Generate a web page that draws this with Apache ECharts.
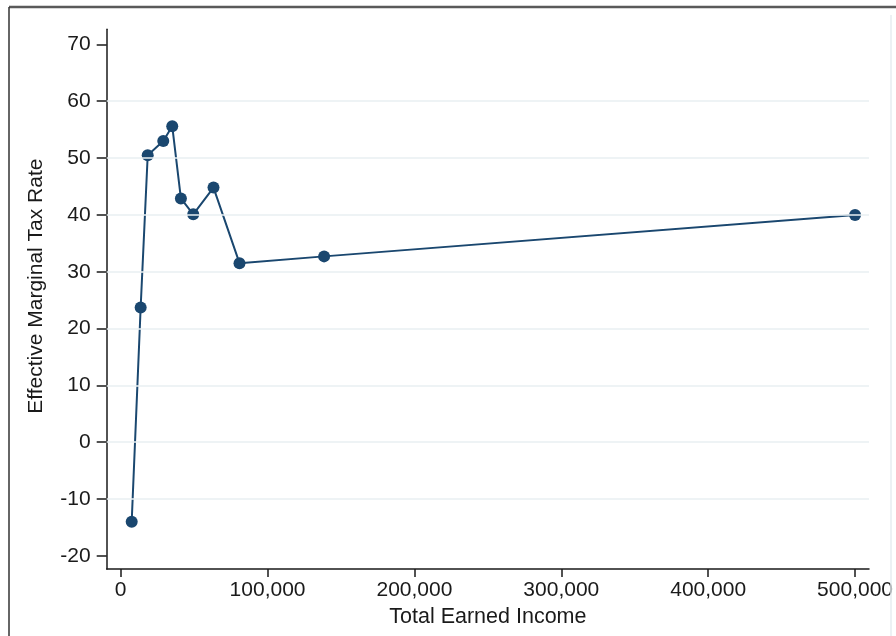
<!DOCTYPE html>
<html>
<head>
<meta charset="utf-8">
<script src="https://cdn.jsdelivr.net/npm/echarts@6/dist/echarts.min.js"></script>
<style>
html,body{margin:0;padding:0;background:#fff;}
#chart{width:896px;height:636px;}
</style>
</head>
<body>
<div id="chart"></div>
<script>
// Data
const income = [7500, 13600, 18400, 29000, 35100, 41000, 49400, 63200, 80900, 138500, 500000];
const rate   = [-14.0, 23.7, 50.5, 53.0, 55.6, 42.9, 40.1, 44.8, 31.5, 32.7, 40.0];
const xTicks = [0, 100000, 200000, 300000, 400000, 500000];
const yTicks = [-20, -10, 0, 10, 20, 30, 40, 50, 60, 70];
const gridLevels = [-10, 0, 10, 20, 30, 40, 50, 60];

const ink = '#1a1a1a';
const navy = '#1a476f';
const font = 'Liberation Sans, Arial, sans-serif';

const chart = echarts.init(document.getElementById('chart'), null, {renderer: 'canvas'});
chart.setOption({
  animation: false,
  backgroundColor: '#ffffff',
  textStyle: {fontFamily: font},
  grid: {left: 106.7, right: 26, top: 29.3, bottom: 67, containLabel: false},
  xAxis: {
    type: 'value',
    min: -9520, max: 509520,
    name: 'Total Earned Income',
    nameLocation: 'middle',
    nameGap: 34,
    nameTextStyle: {fontSize: 21.5, color: ink, fontFamily: font},
    axisLine: {show: true, onZero: false, lineStyle: {color: ink, width: 1.5}},
    axisTick: {show: true, customValues: xTicks, length: 8, lineStyle: {color: ink, width: 1.5}},
    axisLabel: {
      customValues: xTicks, fontSize: 21, color: ink, margin: 11, fontFamily: font,
      formatter: v => Number(v).toLocaleString('en-US')
    },
    splitLine: {show: false}
  },
  yAxis: {
    type: 'value',
    min: -22.3, max: 72.65,
    name: 'Effective Marginal Tax Rate',
    nameLocation: 'middle',
    nameGap: 60,
    nameTextStyle: {fontSize: 21, color: ink, fontFamily: font, padding: [0, 0, 0, 26]},
    axisLine: {show: true, onZero: false, lineStyle: {color: ink, width: 1.5}},
    axisTick: {show: true, customValues: yTicks, length: 10, lineStyle: {color: ink, width: 1.5}},
    axisLabel: {customValues: yTicks, fontSize: 21, color: ink, margin: 16, fontFamily: font},
    splitLine: {show: false}
  },
  graphic: [
    {type: 'line', shape: {x1: 9, y1: 7, x2: 900, y2: 7}, style: {stroke: '#5a5a5a', lineWidth: 2.5}, z: 100},
    {type: 'line', shape: {x1: 9, y1: 7, x2: 9, y2: 640}, style: {stroke: '#333333', lineWidth: 1.5}, z: 100},
    {type: 'line', shape: {x1: 891, y1: 15, x2: 891, y2: 640}, style: {stroke: '#e6edf0', lineWidth: 1.5}, z: 100}
  ],
  series: [
    {
      type: 'line',
      data: [],
      z: 1,
      silent: true,
      markLine: {
        silent: true,
        symbol: 'none',
        label: {show: false},
        lineStyle: {color: '#e8eff2', width: 1.6, type: 'solid'},
        data: gridLevels.map(v => ({yAxis: v}))
      }
    },
    {
      type: 'line',
      z: 3,
      data: income.map((x, i) => [x, rate[i]]),
      symbol: 'circle',
      symbolSize: 12,
      showSymbol: true,
      lineStyle: {color: navy, width: 2},
      itemStyle: {color: navy, borderWidth: 0}
    }
  ]
});
</script>
</body>
</html>
